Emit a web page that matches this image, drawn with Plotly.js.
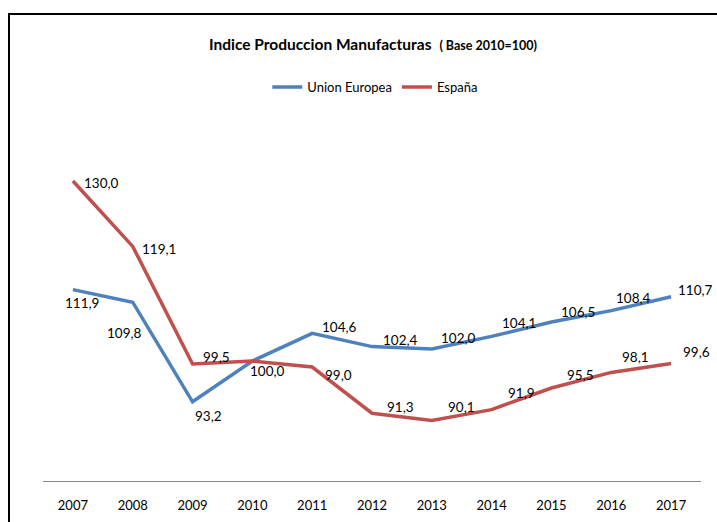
<!DOCTYPE html>
<html>
<head>
<meta charset="utf-8">
<script src="https://cdn.plot.ly/plotly-3.0.1.min.js"></script>
<style>
  html, body { margin: 0; padding: 0; background: #fff; }
  #chart { width: 717px; height: 522px; }
  #frame { position: absolute; left: 8px; top: 13px; width: 760px; height: 560px;
           border: 2px solid #000; pointer-events: none; box-sizing: border-box; }
</style>
</head>
<body>
<div id="chart"></div>
<div id="frame"></div>
<script>
const years = ['2007','2008','2009','2010','2011','2012','2013','2014','2015','2016','2017'];
const unionEuropea = [111.9, 109.8, 93.2, 100.0, 104.6, 102.4, 102.0, 104.1, 106.5, 108.4, 110.7];
const espana = [130.0, 119.1, 99.5, 100.0, 99.0, 91.3, 90.1, 91.9, 95.5, 98.1, 99.6];

// label placement (pixel offsets from each point: [dx, dy-down]); null = label hidden
const ueLabelOffsets = [[9,13],[-8,31],[16,14],[15,10],[27,-6],[28,-7],[27,-11],[27,-13],[27,-10],[22,-13],[24,-7]];
const esLabelOffsets = [[29,2],[26,3],[24,-7],null,[26,8],[28,-6],[30,-13],[30,-17],[29,-13],[24,-15],[25,-11]];

const FONT = 'Lato, "DejaVu Sans Condensed", "Liberation Sans", Arial, sans-serif';
const fmt = v => v.toFixed(1).replace('.', ',');

const traces = [
  { x: years, y: unionEuropea, name: 'Union Europea', type: 'scatter', mode: 'lines',
    line: { color: '#4F81BD', width: 3.5 }, hoverinfo: 'skip' },
  { x: years, y: espana, name: 'España', type: 'scatter', mode: 'lines',
    line: { color: '#C0504D', width: 3.5 }, hoverinfo: 'skip' }
];

const annotations = [];
function addLabels(vals, offs) {
  vals.forEach((v, i) => {
    if (!offs[i]) return;
    // category axis: annotation x uses the category serial index
    annotations.push({ x: i, y: v, xref: 'x', yref: 'y', text: fmt(v), showarrow: false,
      xshift: offs[i][0], yshift: -offs[i][1], xanchor: 'center', yanchor: 'middle',
      font: { family: FONT, size: 13.5, color: '#000' } });
  });
}
addLabels(unionEuropea, ueLabelOffsets);
addLabels(espana, esLabelOffsets);

const layout = {
  width: 717, height: 522,
  margin: { l: 43, r: 16, t: 121, b: 41 },
  paper_bgcolor: '#fff', plot_bgcolor: '#fff',
  font: { family: FONT, color: '#000' },
  title: { text: '<b>Indice Produccion Manufacturas</b>  <b><span style="font-size:12.5px">( Base 2010=100)</span></b>',
    font: { family: FONT, size: 15.5, color: '#000' },
    x: 0.5015, xref: 'paper', xanchor: 'center', y: 0.914, yref: 'container', yanchor: 'middle' },
  showlegend: true,
  legend: { orientation: 'h', x: 0.505, xanchor: 'center', y: 1.094, yanchor: 'middle',
    font: { family: FONT, size: 13, color: '#000' }, bgcolor: 'rgba(0,0,0,0)' },
  xaxis: { type: 'category', range: [-0.5, 10.5], showline: true, linecolor: '#868686', linewidth: 1,
    showgrid: false, zeroline: false, ticks: '', tickfont: { family: FONT, size: 13, color: '#000' },
    ticklabelstandoff: 12, fixedrange: true },
  yaxis: { range: [80, 140], visible: false, showgrid: false, zeroline: false, fixedrange: true },
  annotations: annotations
};

Plotly.newPlot('chart', traces, layout, { displayModeBar: false, staticPlot: true });
</script>
</body>
</html>
